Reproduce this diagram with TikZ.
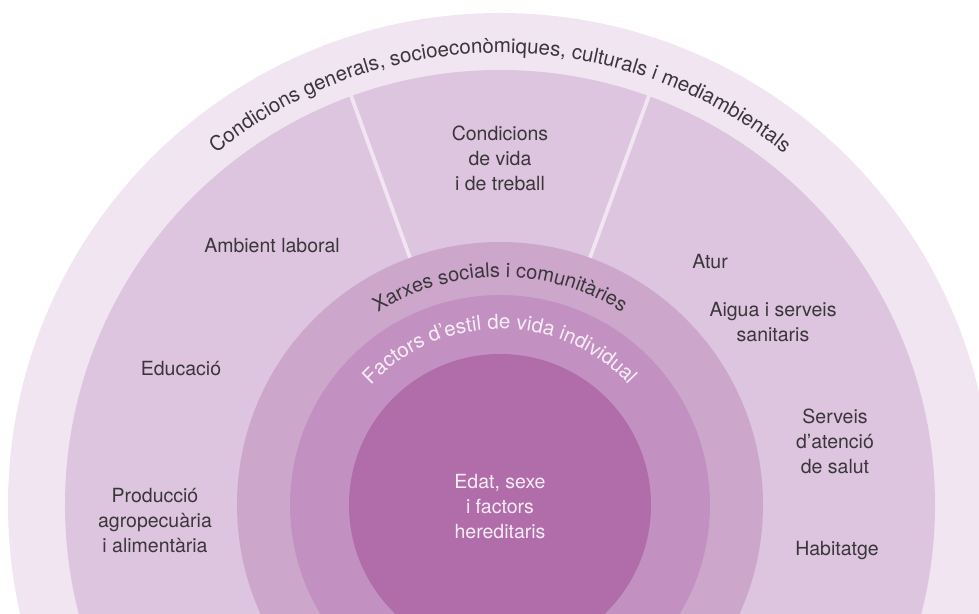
\documentclass[tikz,border=0pt]{standalone}
\usepackage{fontspec}
\setmainfont{TeX Gyre Heros}
\usetikzlibrary{decorations.text}
\definecolor{ringA}{HTML}{F1E5F2}
\definecolor{ringB}{HTML}{DDC4DF}
\definecolor{ringC}{HTML}{CDA6CB}
\definecolor{ringD}{HTML}{C291C2}
\definecolor{ringE}{HTML}{B16CAA}
\definecolor{txt}{HTML}{3A363A}
\definecolor{wtxt}{HTML}{F8EEF8}
\newcommand\lblfont{\fontsize{19.5}{25}\selectfont}
\newcommand\arcfontouter{\fontsize{20.5}{25}\selectfont\color{txt}}
\newcommand\arcfontdark{\fontsize{20}{25}\selectfont\color{txt}}
\newcommand\arcfontwhite{\fontsize{20.5}{25}\selectfont\color{wtxt}}
\begin{document}
\begin{tikzpicture}[x=1pt,y=1pt,
  lbl/.style={align=center, text=txt, font=\lblfont, inner sep=0pt},
  wlbl/.style={lbl, text=wtxt},
  divider/.style={ringA, line width=3.8pt}]
\useasboundingbox (-500,-108) rectangle (479,505);
\clip (-500,-108) rectangle (479,505);
\coordinate (ctr) at (0,0);
\fill[ringA] (ctr) circle[radius=492];
\fill[ringB] (ctr) circle[radius=435];
\coordinate (dl1) at (110:250);
\coordinate (dl2) at (110:437);
\coordinate (dr1) at (70:250);
\coordinate (dr2) at (70:437);
\draw[divider] (dl1) -- (dl2);
\draw[divider] (dr1) -- (dr2);
\fill[ringC] (ctr) circle[radius=263];
\fill[ringD] (ctr) circle[radius=210];
\fill[ringE] (ctr) circle[radius=151];

% curved texts
\path[decorate, decoration={text along path, text format delimiters={|}{|},
  text={|\arcfontouter|Condicions generals, socioeconòmiques, culturals i mediambientals},
  text align=center}] (180:452) arc[start angle=180, end angle=0, radius=452];
\path[decorate, decoration={text along path, text format delimiters={|}{|},
  text={|\arcfontdark|Xarxes socials i comunitàries},
  text align=center}] (180:228) arc[start angle=180, end angle=0, radius=228];
\path[decorate, decoration={text along path, text format delimiters={|}{|},
  text={|\arcfontwhite|Factors d’estil de vida individual},
  text align=center}] (180:176) arc[start angle=180, end angle=0, radius=176];

% labels
\node[lbl] (vida) at (0,346.5) {Condicions\\de vida\\i de treball};
\node[lbl] (amb) at (-228,259.5) {Ambient laboral};
\node[lbl] (edu) at (-319,136.5) {Educació};
\node[lbl] (prod) at (-345,-16) {Producció\\agropecuària\\i alimentària};
\node[lbl] (atur) at (210,243.5) {Atur};
\node[lbl] (aigua) at (273,182.5) {Aigua i serveis\\sanitaris};
\node[lbl] (serv) at (335,64) {Serveis\\d’atenció\\de salut};
\node[lbl] (hab) at (337,-46) {Habitatge};
\node[wlbl] (edat) at (0,-2) {Edat, sexe\\i factors\\hereditaris};
\end{tikzpicture}
\end{document}
